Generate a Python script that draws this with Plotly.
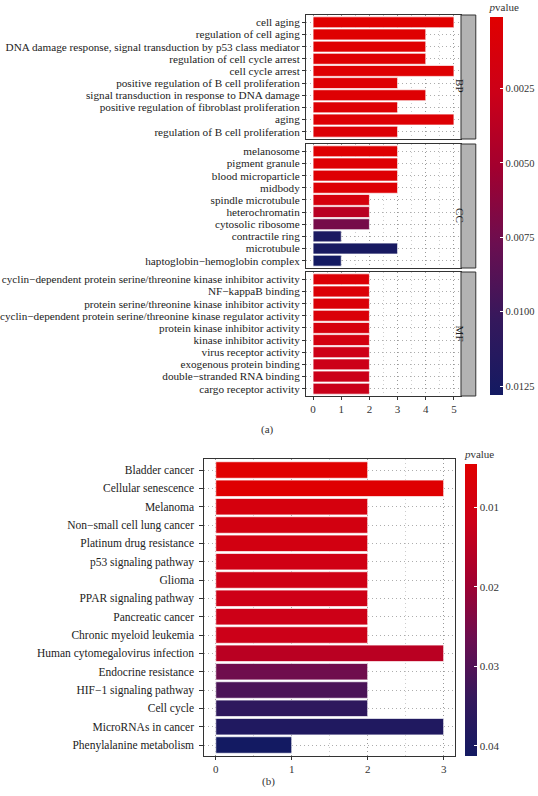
import plotly.graph_objects as go

# ---------------- data ----------------
bp_terms = ["cell aging", "regulation of cell aging",
            "DNA damage response, signal transduction by p53 class mediator",
            "regulation of cell cycle arrest", "cell cycle arrest",
            "positive regulation of B cell proliferation",
            "signal transduction in response to DNA damage",
            "positive regulation of fibroblast proliferation", "aging",
            "regulation of B cell proliferation"]
bp_counts = [5, 4, 4, 4, 5, 3, 4, 3, 5, 3]
bp_p = [0.0001, 0.0002, 0.0002, 0.0003, 0.0003, 0.0004, 0.0004, 0.0005, 0.0005, 0.0006]

cc_terms = ["melanosome", "pigment granule", "blood microparticle", "midbody",
            "spindle microtubule", "heterochromatin", "cytosolic ribosome",
            "contractile ring", "microtubule", "haptoglobin\u2212hemoglobin complex"]
cc_counts = [3, 3, 3, 3, 2, 2, 2, 1, 3, 1]
cc_p = [0.0003, 0.0004, 0.0004, 0.0005, 0.0015, 0.0038, 0.0072, 0.0122, 0.0124, 0.0128]

mf_terms = ["cyclin\u2212dependent protein serine/threonine kinase inhibitor activity",
            "NF\u2212kappaB binding",
            "protein serine/threonine kinase inhibitor activity",
            "cyclin\u2212dependent protein serine/threonine kinase regulator activity",
            "protein kinase inhibitor activity", "kinase inhibitor activity",
            "virus receptor activity", "exogenous protein binding",
            "double\u2212stranded RNA binding", "cargo receptor activity"]
mf_counts = [2, 2, 2, 2, 2, 2, 2, 2, 2, 2]
mf_p = [0.0006, 0.0007, 0.0008, 0.0009, 0.0014, 0.0017, 0.0024, 0.0026, 0.0027, 0.0028]

kegg_terms = ["Bladder cancer", "Cellular senescence", "Melanoma",
              "Non\u2212small cell lung cancer", "Platinum drug resistance",
              "p53 signaling pathway", "Glioma", "PPAR signaling pathway",
              "Pancreatic cancer", "Chronic myeloid leukemia",
              "Human cytomegalovirus infection", "Endocrine resistance",
              "HIF\u22121 signaling pathway", "Cell cycle", "MicroRNAs in cancer",
              "Phenylalanine metabolism"]
kegg_counts = [2, 3, 2, 2, 2, 2, 2, 2, 2, 2, 3, 2, 2, 2, 3, 1]
kegg_p = [0.0045, 0.0048, 0.0085, 0.0095, 0.0098, 0.0105, 0.0108, 0.0112,
          0.0115, 0.0118, 0.0150, 0.0260, 0.0310, 0.0355, 0.0385, 0.0413]

go_ticks = [0.0025, 0.0050, 0.0075, 0.0100, 0.0125]
go_ticktext = ["0.0025", "0.0050", "0.0075", "0.0100", "0.0125"]
kegg_ticks = [0.01, 0.02, 0.03, 0.04]
kegg_ticktext = ["0.01", "0.02", "0.03", "0.04"]

# ---------------- styling ----------------
W, H = 538, 796
FONT = "Liberation Serif"
# colour bar runs with small p-values (red) at the top, as in ggplot: map -p
scale = [[0.0, "#131A62"], [0.2, "#35185C"], [0.4, "#6B0E50"], [0.6, "#A2002F"],
         [0.8, "#CC0018"], [1.0, "#E00000"]]


def px_x(v):
    return v / W


def px_y(v):
    return 1 - v / H


def neg(vals):
    return [-v for v in vals]


fig = go.Figure()

facets = [("BP", bp_terms, bp_counts, bp_p, 15, 139),
          ("CC", cc_terms, cc_counts, cc_p, 144, 268),
          ("MF", mf_terms, mf_counts, mf_p, 272, 396)]

bar_line = dict(color="rgba(255,255,255,0.7)", width=1)
DOT = "1px,3px"
grid_common = dict(showgrid=True, gridcolor="#777777", griddash=DOT, gridwidth=0.6,
                   showline=True, linecolor="#333333", linewidth=1, mirror=True,
                   zeroline=False)
minor_grid = dict(dtick=0.5, tick0=0, showgrid=True, gridcolor="#999999",
                  griddash=DOT, gridwidth=0.5)

top_x0, top_x1 = 305, 462
for i, (name, terms, counts, pv, yt, yb) in enumerate(facets):
    idx = "" if i == 0 else str(i + 1)
    fig.add_trace(go.Bar(x=counts, y=terms, orientation="h", width=0.9,
                         marker=dict(color=neg(pv), coloraxis="coloraxis", line=bar_line),
                         xaxis="x" + idx, yaxis="y" + idx, showlegend=False))
    last = (i == 2)
    fig.layout["xaxis" + idx] = dict(
        domain=[px_x(top_x0), px_x(top_x1)], anchor="y" + idx, range=[-0.25, 5.25],
        tickvals=[0, 1, 2, 3, 4, 5], showticklabels=last,
        ticks="outside" if last else "", ticklen=3, tickcolor="#333333",
        tickfont=dict(family=FONT, size=11, color="#333333"),
        minor=minor_grid, **grid_common)
    fig.layout["yaxis" + idx] = dict(
        domain=[px_y(yb), px_y(yt)], anchor="x" + idx,
        type="category", categoryorder="array", categoryarray=terms,
        tickmode="linear", tick0=0, dtick=1,
        range=[9.6, -0.6], ticks="outside", ticklen=3, tickcolor="#333333",
        tickfont=dict(family=FONT, size=11.2, color="#222222"),
        **grid_common)
    # facet strip
    fig.add_shape(type="rect", xref="paper", yref="paper",
                  x0=px_x(462), x1=px_x(477), y0=px_y(yb), y1=px_y(yt),
                  fillcolor="#B3B3B3", line=dict(color="#333333", width=1))
    fig.add_annotation(text=name, xref="paper", yref="paper",
                       x=px_x(469.5), y=(px_y(yb) + px_y(yt)) / 2, showarrow=False,
                       textangle=90, font=dict(family=FONT, size=11, color="#1a1a1a"))

# bottom KEGG panel
fig.add_trace(go.Bar(x=kegg_counts, y=kegg_terms, orientation="h", width=0.9,
                     marker=dict(color=neg(kegg_p), coloraxis="coloraxis2", line=bar_line),
                     xaxis="x4", yaxis="y4", showlegend=False))
fig.layout["xaxis4"] = dict(
    domain=[px_x(202), px_x(456)], anchor="y4", range=[-0.15, 3.15],
    tickvals=[0, 1, 2, 3], ticks="outside", ticklen=3, tickcolor="#333333",
    tickfont=dict(family=FONT, size=11, color="#333333"),
    minor=minor_grid, **grid_common)
fig.layout["yaxis4"] = dict(
    domain=[px_y(756), px_y(459)], anchor="x4",
    type="category", categoryorder="array", categoryarray=kegg_terms,
    tickmode="linear", tick0=0, dtick=1,
    range=[15.6, -0.6], ticks="outside", ticklen=4, tickcolor="#333333",
    ticklabelstandoff=3,
    tickfont=dict(family=FONT, size=11.5, color="#222222"),
    **grid_common)

cb_font = dict(family=FONT, size=10.5, color="#333333")
go_all = bp_p + cc_p + mf_p
fig.update_layout(
    width=W, height=H, autosize=False,
    margin=dict(l=0, r=0, t=0, b=0),
    paper_bgcolor="white", plot_bgcolor="white",
    bargap=0.1, hovermode=False,
    coloraxis=dict(
        colorscale=scale, cmin=-max(go_all), cmax=-min(go_all),
        colorbar=dict(
            x=px_x(491), xanchor="left", y=px_y(0), yanchor="top",
            len=(395 - 0) / H, lenmode="fraction", thickness=13,
            xpad=0, ypad=0, outlinewidth=0,
            tickvals=neg(go_ticks), ticktext=go_ticktext, ticks="inside",
            tickcolor="white", ticklen=3, tickfont=cb_font,
            title=dict(text="<i>p</i>value", side="top",
                       font=dict(family=FONT, size=11, color="#333333")))),
    coloraxis2=dict(
        colorscale=scale, cmin=-max(kegg_p), cmax=-min(kegg_p),
        colorbar=dict(
            x=px_x(466), xanchor="left", y=px_y(447), yanchor="top",
            len=(756 - 447) / H, lenmode="fraction", thickness=12,
            xpad=0, ypad=0, outlinewidth=0,
            tickvals=neg(kegg_ticks), ticktext=kegg_ticktext, ticks="inside",
            tickcolor="white", ticklen=3, tickfont=dict(family=FONT, size=11, color="#333333"),
            title=dict(text="<i>p</i>value", side="top",
                       font=dict(family=FONT, size=11, color="#333333")))),
)

fig.add_annotation(text="(a)", xref="paper", yref="paper", x=px_x(266), y=px_y(429),
                   showarrow=False, font=dict(family=FONT, size=11, color="#333333"))
fig.add_annotation(text="(b)", xref="paper", yref="paper", x=px_x(267), y=px_y(790),
                   showarrow=False, font=dict(family=FONT, size=11, color="#333333"))

fig.write_html("out.html", config={"displayModeBar": False, "staticPlot": True},
               post_script="document.body.style.margin='0';document.body.style.overflow='hidden';")
